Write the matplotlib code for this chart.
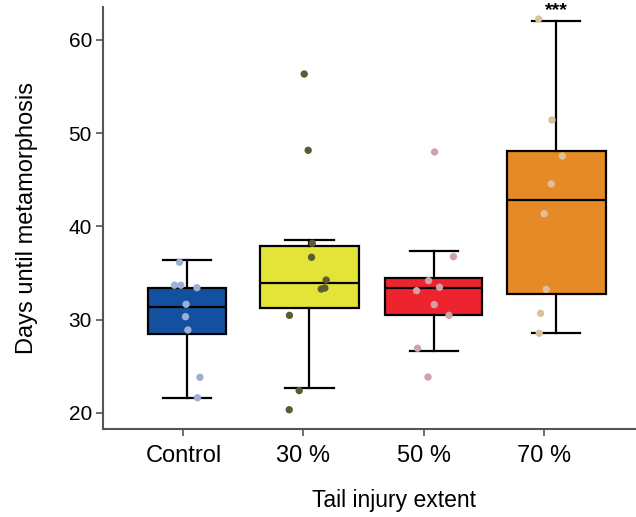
import matplotlib
matplotlib.use("Agg")
import matplotlib.pyplot as plt
import numpy as np

plt.rcParams['font.family'] = ['Liberation Sans', 'DejaVu Sans']

# ---- data ----
categories = ["Control", "30 %", "50 %", "70 %"]
whisker_low = [21.64, 22.72, 26.61, 28.61]
q1 = [28.44, 31.23, 30.51, 32.73]
median = [31.4, 33.98, 33.44, 42.84]
q3 = [33.44, 37.9, 34.44, 48.13]
whisker_high = [36.37, 38.52, 37.37, 62.0]

control_pts = [36.16, 33.7, 33.7, 33.44, 31.66, 30.33, 28.9, 23.83, 21.64]
control_jit = [-0.033, -0.075, -0.022, 0.112, 0.022, 0.017, 0.037, 0.137, 0.117]
p30_pts = [56.35, 48.17, 38.2, 36.7, 34.26, 33.3, 33.4, 30.47, 22.4, 20.35]
p30_jit = [0.006, 0.039, 0.073, 0.067, 0.189, 0.148, 0.178, -0.117, -0.036, -0.119]
p50_pts = [47.99, 36.76, 34.19, 33.48, 33.12, 31.62, 30.47, 26.94, 23.86]
p50_jit = [0.092, 0.25, 0.042, 0.133, -0.058, 0.089, 0.212, -0.05, 0.037]
p70_pts = [62.25, 51.42, 47.56, 44.56, 41.37, 33.26, 30.69, 28.55]
p70_jit = [-0.042, 0.07, 0.156, 0.064, 0.006, 0.022, -0.025, -0.036]

significance = ["", "", "", "***"]

# ---- style ----
box_colors = ["#12519F", "#E4E337", "#EE2330", "#E58A26"]
pt_colors = ["#9DAFD2", "#5D5B33", "#CDA3A8", "#DCC09C"]
box_shift = [0.03, 0.05, 0.085, 0.106]
box_widths = [0.65, 0.82, 0.81, 0.825]

fig = plt.figure(figsize=(6.36, 5.17), dpi=100)
ax = fig.add_axes([0.162, 0.1696, 0.838, 0.8169])

stats = []
for i, c in enumerate(categories):
    stats.append(dict(whislo=whisker_low[i], q1=q1[i], med=median[i],
                      q3=q3[i], whishi=whisker_high[i], fliers=[], label=c))

positions = [i + s for i, s in enumerate(box_shift)]
bp = ax.bxp(stats, positions=positions, widths=box_widths, patch_artist=True,
            showfliers=False, capwidths=0.4,
            boxprops=dict(linewidth=1.6, edgecolor="black"),
            medianprops=dict(color="black", linewidth=1.6),
            whiskerprops=dict(color="black", linewidth=1.6),
            capprops=dict(color="black", linewidth=1.6))
for patch, col in zip(bp['boxes'], box_colors):
    patch.set_facecolor(col)

all_pts = [control_pts, p30_pts, p50_pts, p70_pts]
all_jit = [control_jit, p30_jit, p50_jit, p70_jit]
for i, (pts, jit) in enumerate(zip(all_pts, all_jit)):
    xs = [i + j for j in jit]
    ax.scatter(xs, pts, s=28, color=pt_colors[i], edgecolors='none', zorder=5)

for i, s in enumerate(significance):
    if s:
        ax.text(positions[i], whisker_high[i] + 0.2, s, ha='center', va='bottom',
                fontsize=14, fontweight='bold')

ax.set_xlim(-0.67, 3.77)
ax.set_ylim(18.25, 63.54)
ax.set_xticks(range(len(categories)))
ax.set_xticklabels(categories, fontsize=17)
ax.set_yticks([20, 30, 40, 50, 60])
ax.tick_params(axis='y', labelsize=15, length=5, width=1.2, color='#555555', pad=3)
ax.tick_params(axis='x', length=5, width=1.2, color='#555555', pad=6)
ax.set_ylabel("Days until metamorphosis", fontsize=17, labelpad=22)
ax.set_xlabel("Tail injury extent", fontsize=16.5, labelpad=16)
ax.xaxis.label.set_x(0.546)
for sp in ['top', 'right']:
    ax.spines[sp].set_visible(False)
for sp in ['left', 'bottom']:
    ax.spines[sp].set_color('#555555')
    ax.spines[sp].set_linewidth(1.5)

fig.savefig("out.png", dpi=100)
